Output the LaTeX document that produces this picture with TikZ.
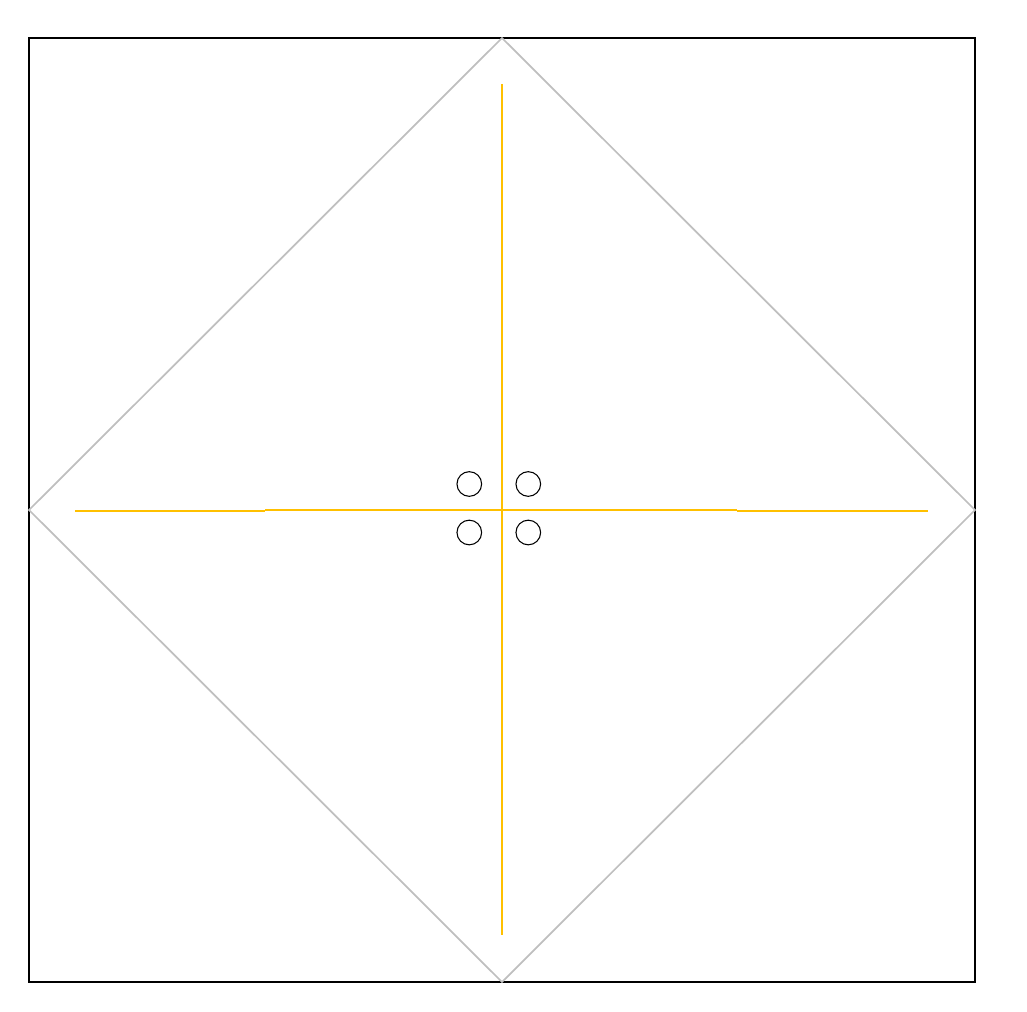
\documentclass[tikz,border=0pt]{standalone}
\begin{document}
\definecolor{diamondgray}{HTML}{BFBFBF}
\definecolor{axisorange}{HTML}{FFC000}
\begin{tikzpicture}[x=0.75pt,y=-0.75pt,
  frame/.style={draw=black,line width=1.5pt},
  diamondline/.style={draw=diamondgray,line width=1.3pt},
  axisline/.style={draw=axisorange,line width=1.5pt},
  hole/.style={circle,draw=black,line width=0.8pt,minimum size=25\pgflinewidth,inner sep=0pt,minimum size=18.5pt}]
\useasboundingbox (0,0) rectangle (1027,1012);
\draw[frame] (29,38) rectangle (975,982);
\coordinate (T) at (502,38);
\coordinate (R) at (975,510);
\coordinate (B) at (502,982);
\coordinate (L) at (29,510);
\draw[diamondline] (T) -- (R) -- (B) -- (L) -- cycle;
\coordinate (h1) at (75,510.7);
\coordinate (h2) at (265,510.7);
\coordinate (h3) at (265,510.2);
\coordinate (h4) at (737,510.2);
\coordinate (h5) at (737,510.7);
\coordinate (h6) at (928,510.7);
\draw[axisline] (h1) -- (h2);
\draw[axisline] (h3) -- (h4);
\draw[axisline] (h5) -- (h6);
\coordinate (v1) at (501.8,84);
\coordinate (v2) at (501.8,935);
\draw[axisline] (v1) -- (v2);
\node[hole] (c1) at (469.3,484) {};
\node[hole] (c2) at (528.3,484) {};
\node[hole] (c3) at (469.3,532.5) {};
\node[hole] (c4) at (528.3,532.5) {};
\end{tikzpicture}
\end{document}
